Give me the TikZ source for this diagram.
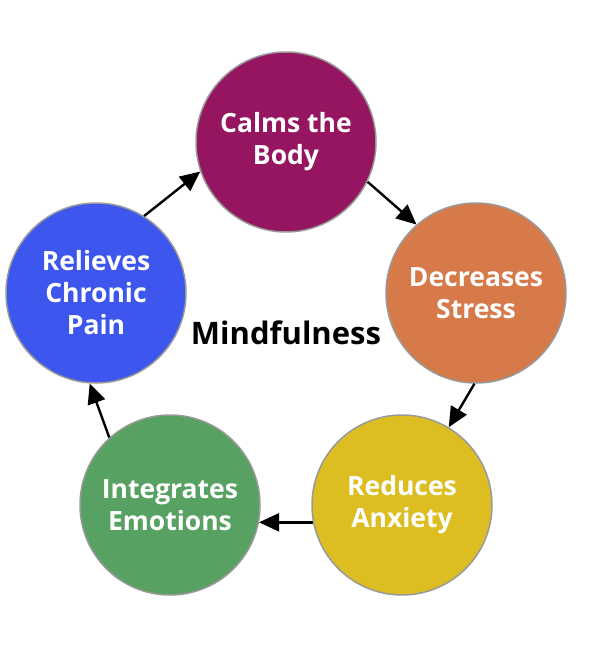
\documentclass[tikz,border=0pt]{standalone}
\usepackage{fontspec}
\setmainfont{Open Sans}
\usetikzlibrary{arrows.meta}
\definecolor{calmcol}{HTML}{951560}
\definecolor{stresscol}{HTML}{D67A4A}
\definecolor{anxcol}{HTML}{DCBE22}
\definecolor{emocol}{HTML}{57A262}
\definecolor{paincol}{HTML}{3D56EE}
\begin{document}
\begin{tikzpicture}[x=1pt,y=-1pt]
			\tikzstyle{every node}+=[inner sep=0pt]
			\tikzstyle{ball}=[circle, minimum size=180pt, draw=black!40, line width=1.5pt, text=white, align=center, font=\fontsize{26.5}{32}\selectfont\bfseries]
			\tikzstyle{flow}=[-{Triangle[length=20pt,width=18pt]}, line width=2.4pt]
			\useasboundingbox (0,0) rectangle (610,662);
			\node [ball, fill=calmcol] (calm) at (286,142) {Calms the\\Body};
			\node [ball, fill=stresscol] (stress) at (476,293) {Decreases\\Stress};
			\node [ball, fill=anxcol] (anx) at (402,505) {Reduces\\Anxiety};
			\node [ball, fill=emocol] (emo) at (170,505) {Integrates\\Emotions};
			\node [ball, fill=paincol] (pain) at (96,293) {Relieves\\Chronic\\Pain};
			\node [font=\fontsize{31}{36}\selectfont\bfseries] (mind) at (286,333) {Mindfulness};
			\draw [flow] (pain.58) -- (calm.199);
			\draw [flow] (calm.334) -- (stress.131);
			\draw [flow] (stress.269) -- (anx.59);
			\draw [flow] (anx.191) -- (emo.349);
			\draw [flow] (emo.132) -- (pain.266);
		\end{tikzpicture}
\end{document}
